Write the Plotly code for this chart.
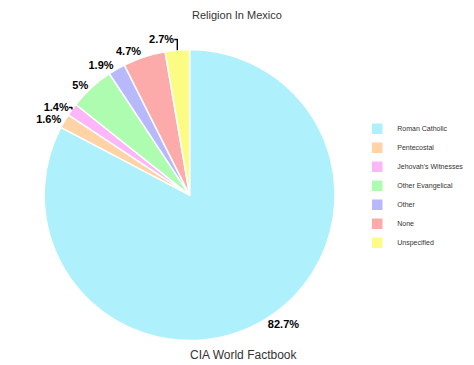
import plotly.graph_objects as go

labels = ["Roman Catholic", "Pentecostal", "Jehovah's Witnesses", "Other Evangelical", "Other", "None", "Unspecified"]
values = [82.7, 1.6, 1.4, 5, 1.9, 4.7, 2.7]
colors = ["#aef0fc", "#ffd3a6", "#fdb6f7", "#aefcb0", "#b8b8fc", "#fcaaaa", "#fcfc84"]

fig = go.Figure(go.Pie(
    labels=labels, values=values, sort=False, direction="clockwise", rotation=0,
    marker=dict(colors=colors, line=dict(color="white", width=1.5)),
    texttemplate="<b>%{value}%</b>", textposition="outside",
    textfont=dict(size=11, color="black", family="Liberation Sans"),
    domain=dict(x=[0.0416, 0.7116], y=[0.089, 0.886]),
    hoverinfo="label+percent",
))
fig.update_layout(
    width=474, height=365,
    margin=dict(l=0, r=0, t=0, b=0),
    paper_bgcolor="white",
    font=dict(family="Liberation Sans", color="#333"),
    title=dict(text="Religion In Mexico", x=0.483, xanchor="center", y=0.981, yanchor="middle",
               font=dict(size=11, color="#333")),
    legend=dict(x=0.734, y=0.709, xanchor="left", yanchor="top", font=dict(size=7, color="#333"),
                itemwidth=30, tracegroupgap=0),
    annotations=[dict(text="CIA World Factbook", x=0.492, y=0.049, xref="paper", yref="paper",
                      showarrow=False, font=dict(size=12, color="#333"), yanchor="middle")],
)
fig.write_html("out.html", config={"displayModeBar": False})
